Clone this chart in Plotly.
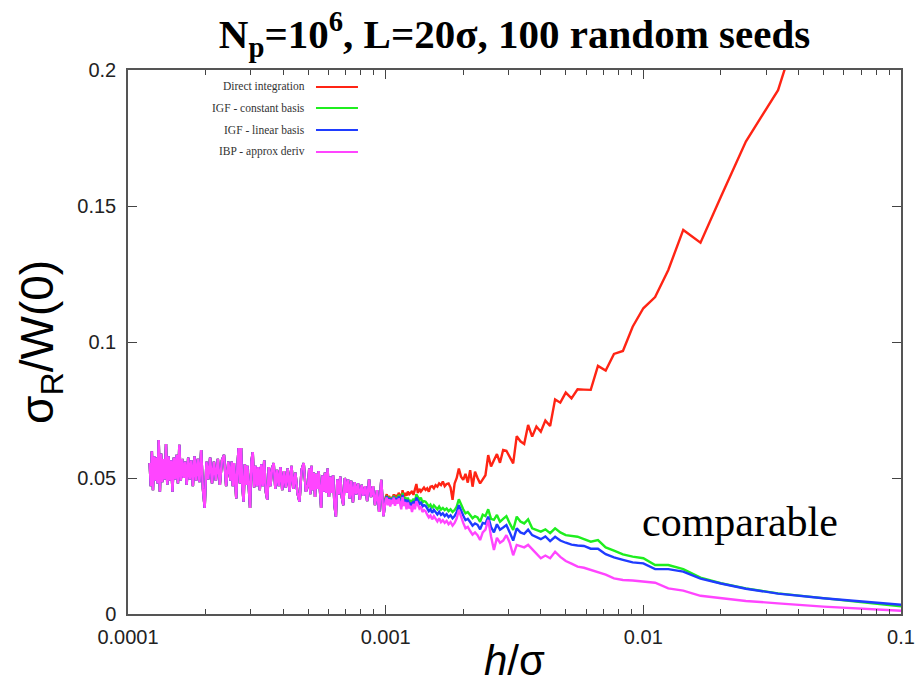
import plotly.graph_objects as go

# ---------------- data ----------------
# grid: h/sigma = 0.1 / k   (L = 20 sigma, N = 200 k cells)
k_dense = list(range(824, 400, -8)) + list(range(400, 200, -4)) + list(range(200, 100, -2))
k_sparse = list(range(100, 0, -1))

# noisy region (k > 100) where all four methods coincide
dense_vals = [
    0.0555, 0.0470, 0.0598, 0.0455, 0.0580, 0.0490, 0.0575, 0.0480, 0.0640, 0.0450,
    0.0590, 0.0485, 0.0570, 0.0495, 0.0625, 0.0475, 0.0580, 0.0490, 0.0565, 0.0450,
    0.0575, 0.0495, 0.0585, 0.0480, 0.0622, 0.0490, 0.0570, 0.0500, 0.0560, 0.0475,
    0.0575, 0.0495, 0.0565, 0.0470, 0.0580, 0.0490, 0.0570, 0.0485, 0.0603, 0.0460,
    0.0390, 0.0560, 0.0495, 0.0575, 0.0480, 0.0560, 0.0490, 0.0570, 0.0475, 0.0565,
    0.0585, 0.0470, 0.0560,
    0.0490, 0.0560, 0.0470, 0.0555, 0.0480, 0.0425, 0.0550, 0.0610, 0.0480, 0.0610,
    0.0470, 0.0413, 0.0550, 0.0475, 0.0545, 0.0460, 0.0390, 0.0560, 0.0595, 0.0465,
    0.0545, 0.0470, 0.0540, 0.0455, 0.0550, 0.0470, 0.0565, 0.0450, 0.0420, 0.0540,
    0.0470, 0.0535, 0.0555, 0.0460, 0.0530, 0.0470, 0.0540, 0.0455, 0.0525, 0.0465,
    0.0535, 0.0450, 0.0545, 0.0460, 0.0520, 0.0445, 0.0413, 0.0530, 0.0555, 0.0450,
    0.0475, 0.0535, 0.0440, 0.0545, 0.0455, 0.0520, 0.0430, 0.0515, 0.0460, 0.0525,
    0.0440, 0.0390, 0.0510, 0.0450, 0.0520, 0.0445, 0.0535, 0.0430, 0.0505, 0.0445,
    0.0510, 0.0400, 0.0358, 0.0495, 0.0440, 0.0505, 0.0430, 0.0400, 0.0500, 0.0445,
    0.0495, 0.0425, 0.0490, 0.0410, 0.0485, 0.0440, 0.0480, 0.0420, 0.0475, 0.0435,
    0.0470, 0.0415, 0.0495, 0.0430, 0.0470, 0.0400, 0.0455, 0.0375, 0.0493, 0.0360,
]

# k = 100 ... 1
direct_vals = [
    0.0430, 0.0440, 0.0415, 0.0435, 0.0413, 0.0430, 0.0425, 0.0440, 0.0420, 0.0438,
    0.0430, 0.0445, 0.0438, 0.0415, 0.0455, 0.0430, 0.0445, 0.0435, 0.0450, 0.0440,
    0.0445, 0.0452, 0.0438, 0.0460, 0.0478, 0.0445, 0.0460, 0.0450, 0.0456, 0.0465,
    0.0456, 0.0462, 0.0450, 0.0468, 0.0470, 0.0462, 0.0474, 0.0468, 0.0480, 0.0474,
    0.0487, 0.0470, 0.0478, 0.0480, 0.0465, 0.0420, 0.0480, 0.0500, 0.0535, 0.0505,
    0.0493, 0.0515, 0.0483, 0.0529, 0.0468, 0.0523, 0.0500, 0.0480, 0.0495, 0.0510,
    0.0584, 0.0542, 0.0565, 0.0588, 0.0556, 0.0603, 0.0600, 0.0575, 0.0554, 0.0654,
    0.0635, 0.0625, 0.0695, 0.0652, 0.0689, 0.0670, 0.0711, 0.0691, 0.0789, 0.0777,
    0.0814, 0.0793, 0.0826, 0.0825, 0.0824, 0.0912, 0.0895, 0.0956, 0.0967, 0.1056,
    0.1124, 0.1165, 0.1265, 0.1412, 0.1365, 0.1534, 0.1737, 0.1926, 0.2450, 0.4000,
]
igf_const_vals = [
    0.0425, 0.0435, 0.0410, 0.0430, 0.0405, 0.0428, 0.0418, 0.0435, 0.0412, 0.0430,
    0.0420, 0.0438, 0.0425, 0.0400, 0.0445, 0.0415, 0.0430, 0.0405, 0.0428, 0.0410,
    0.0420, 0.0400, 0.0425, 0.0410, 0.0440, 0.0431, 0.0420, 0.0428, 0.0410, 0.0415,
    0.0413, 0.0405, 0.0395, 0.0402, 0.0389, 0.0400, 0.0392, 0.0385, 0.0395, 0.0384,
    0.0390, 0.0382, 0.0388, 0.0378, 0.0385, 0.0375, 0.0382, 0.0395, 0.0422, 0.0400,
    0.0385, 0.0370, 0.0375, 0.0364, 0.0352, 0.0360, 0.0355, 0.0339, 0.0365, 0.0360,
    0.0385, 0.0350, 0.0346, 0.0364, 0.0339, 0.0350, 0.0360, 0.0333, 0.0309, 0.0358,
    0.0340, 0.0333, 0.0348, 0.0315, 0.0310, 0.0303, 0.0311, 0.0297, 0.0315, 0.0300,
    0.0290, 0.0287, 0.0284, 0.0275, 0.0266, 0.0272, 0.0245, 0.0233, 0.0219, 0.0211,
    0.0205, 0.0180, 0.0180, 0.0165, 0.0134, 0.0113, 0.0094, 0.0076, 0.0058, 0.0028,
]
igf_linear_vals = [
    0.0422, 0.0432, 0.0407, 0.0427, 0.0402, 0.0425, 0.0414, 0.0431, 0.0408, 0.0426,
    0.0415, 0.0432, 0.0419, 0.0395, 0.0438, 0.0408, 0.0422, 0.0397, 0.0420, 0.0400,
    0.0410, 0.0390, 0.0415, 0.0398, 0.0428, 0.0418, 0.0405, 0.0412, 0.0395, 0.0400,
    0.0398, 0.0388, 0.0378, 0.0385, 0.0372, 0.0383, 0.0374, 0.0366, 0.0376, 0.0364,
    0.0370, 0.0360, 0.0367, 0.0356, 0.0363, 0.0352, 0.0360, 0.0375, 0.0400, 0.0378,
    0.0362, 0.0345, 0.0350, 0.0338, 0.0325, 0.0333, 0.0328, 0.0311, 0.0335, 0.0332,
    0.0358, 0.0320, 0.0300, 0.0330, 0.0310, 0.0318, 0.0327, 0.0300, 0.0270, 0.0315,
    0.0300, 0.0295, 0.0310, 0.0290, 0.0282, 0.0275, 0.0285, 0.0268, 0.0284, 0.0270,
    0.0262, 0.0255, 0.0252, 0.0250, 0.0240, 0.0240, 0.0220, 0.0208, 0.0199, 0.0190,
    0.0186, 0.0165, 0.0165, 0.0156, 0.0130, 0.0112, 0.0093, 0.0075, 0.0058, 0.0034,
]
ibp_vals = [
    0.0418, 0.0428, 0.0400, 0.0422, 0.0395, 0.0420, 0.0405, 0.0428, 0.0398, 0.0420,
    0.0405, 0.0425, 0.0408, 0.0385, 0.0430, 0.0398, 0.0412, 0.0385, 0.0410, 0.0388,
    0.0398, 0.0375, 0.0405, 0.0385, 0.0415, 0.0402, 0.0388, 0.0395, 0.0375, 0.0382,
    0.0378, 0.0365, 0.0355, 0.0362, 0.0348, 0.0360, 0.0350, 0.0340, 0.0352, 0.0338,
    0.0345, 0.0335, 0.0342, 0.0330, 0.0338, 0.0325, 0.0335, 0.0352, 0.0382, 0.0355,
    0.0335, 0.0315, 0.0320, 0.0305, 0.0292, 0.0300, 0.0290, 0.0272, 0.0300, 0.0310,
    0.0346, 0.0285, 0.0235, 0.0280, 0.0262, 0.0270, 0.0290, 0.0262, 0.0216, 0.0254,
    0.0250, 0.0245, 0.0254, 0.0240, 0.0222, 0.0205, 0.0215, 0.0205, 0.0229, 0.0210,
    0.0195, 0.0185, 0.0174, 0.0170, 0.0162, 0.0155, 0.0145, 0.0131, 0.0125, 0.0123,
    0.0119, 0.0115, 0.0094, 0.0086, 0.0067, 0.0058, 0.0048, 0.0039, 0.0027, 0.0012,
]

series_names = ["Direct integration", "IGF - constant basis", "IGF - linear basis", "IBP - approx deriv"]
series_colors = ["#ff2414", "#1fee1f", "#1f3cff", "#ff45ff"]
series_sparse = [direct_vals, igf_const_vals, igf_linear_vals, ibp_vals]

x_tick_vals = [1e-4, 1e-3, 1e-2, 1e-1]
x_tick_text = ["0.0001", "0.001", "0.01", "0.1"]
x_minor_vals = [m * d for d in (1e-4, 1e-3, 1e-2) for m in range(2, 10)]
y_tick_vals = [0, 0.05, 0.1, 0.15, 0.2]
y_tick_text = ["0", "0.05", "0.1", "0.15", "0.2"]

# --------------- figure ---------------
h_vals = [0.1 / k for k in k_dense + k_sparse]

fig = go.Figure()
for name, color, sv in zip(series_names, series_colors, series_sparse):
    fig.add_trace(go.Scatter(x=h_vals, y=dense_vals + sv, mode="lines", name=name,
                             line=dict(color=color, width=2.4), showlegend=False))

serif = "Liberation Serif, Times New Roman, serif"
sans = "Liberation Sans, Arial, sans-serif"

# legend drawn gnuplot-style: text right-aligned, sample line on the right
leg_y = [0.9688, 0.9301, 0.8897, 0.8493]
annotations = []
shapes = []
for name, color, yy in zip(series_names, series_colors, leg_y):
    annotations.append(dict(xref="paper", yref="paper", x=0.2316, y=yy, xanchor="right",
                            yanchor="middle", text=name, showarrow=False,
                            font=dict(family=serif, size=11.5, color="#333333")))
    shapes.append(dict(type="line", xref="paper", yref="paper", x0=0.2432, x1=0.2975,
                       y0=yy, y1=yy, line=dict(color=color, width=2)))

annotations.append(dict(xref="paper", yref="paper", x=0.792, y=0.169, xanchor="center",
                        yanchor="middle", text="comparable", showarrow=False,
                        font=dict(family=serif, size=42, color="black")))
# axis titles
annotations.append(dict(xref="paper", yref="paper", x=0.5, y=-0.085, xanchor="center",
                        yanchor="middle", text="<i>h</i>/σ", showarrow=False,
                        font=dict(family=sans, size=42, color="black")))
annotations.append(dict(xref="paper", yref="paper", x=-0.114, y=0.5, xanchor="center",
                        yanchor="middle", text="σ<sub>R</sub>/W(0)", showarrow=False,
                        textangle=-90, font=dict(family=sans, size=46, color="black")))

tick_font = dict(family="Liberation Sans Narrow, Arial Narrow, Liberation Sans, Arial, sans-serif",
                 size=20, color="#222222")

# page is shown with an 8px body margin, so the figure is 8px smaller than the window
fig.update_layout(
    width=915, height=677,
    margin=dict(l=120, r=22, t=62, b=71, autoexpand=False),
    paper_bgcolor="white", plot_bgcolor="white",
    title=dict(text="N<sub>p</sub>=10<sup>6</sup>, L=20σ, 100 random seeds",
               x=0.5, xref="paper", xanchor="center", y=0.962, yanchor="middle",
               font=dict(family=serif, size=41, color="black", weight="bold")),
    annotations=annotations,
    shapes=shapes,
    showlegend=False,
)

fig.update_xaxes(type="log", range=[-4, -1], tickvals=x_tick_vals, ticktext=x_tick_text,
                 ticks="inside", ticklen=9, tickwidth=1.2, tickcolor="#444444",
                 minor=dict(tickvals=x_minor_vals, ticks="inside", ticklen=5,
                            tickcolor="#444444", showgrid=False),
                 showline=True, linecolor="#555555", linewidth=1.5, mirror="ticks",
                 showgrid=False, zeroline=False, tickfont=tick_font, automargin=False,
                 ticklabelstandoff=4)
fig.update_yaxes(range=[0, 0.2], tickvals=y_tick_vals, ticktext=y_tick_text,
                 ticks="inside", ticklen=9, tickwidth=1.2, tickcolor="#444444",
                 showline=True, linecolor="#555555", linewidth=1.5, mirror="ticks",
                 showgrid=False, zeroline=False, tickfont=tick_font, automargin=False,
                 ticklabelstandoff=6)

fig.write_html("out.html")
